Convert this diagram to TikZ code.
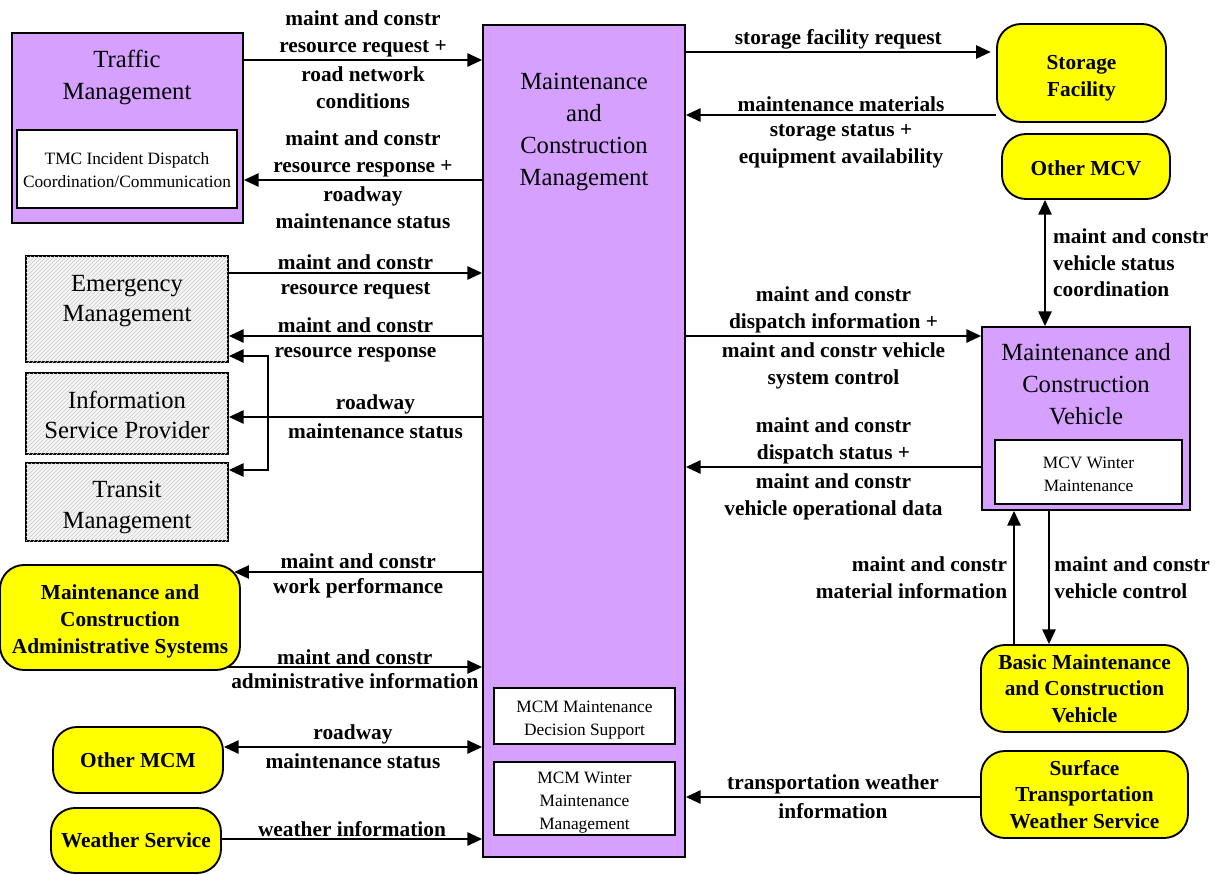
\documentclass[tikz,border=0pt]{standalone}
\usepackage{fontspec}
\setmainfont{Liberation Serif}
\usetikzlibrary{arrows.meta, fit, patterns}
\definecolor{mcpurple}{RGB}{214,160,255}
\definecolor{termyellow}{RGB}{255,255,0}
\tikzset{
    >={Triangle[length=11pt,width=10pt]},
    flow/.style={->, line width=1.2pt},
    flowboth/.style={<->, line width=1.2pt},
    lbl/.style={font=\fontsize{16}{20}\selectfont\bfseries, align=center, inner sep=1.5pt},
    upper/.style={lbl, above},
    lower/.style={lbl, below},
    subsys/.style={draw, line width=1.4pt, fill=mcpurple, inner sep=0pt},
    subtitle/.style={font=\fontsize{18.5}{24}\selectfont, align=center, inner sep=0pt},
    pspec/.style={draw, line width=1.2pt, fill=white, inner sep=0pt},
    spectext/.style={font=\fontsize{13}{17}\selectfont, align=center, inner sep=0pt},
    terminator/.style={draw, line width=1.4pt, fill=termyellow, rounded corners=18pt, inner sep=0pt},
    termtext/.style={font=\fontsize{16}{20}\selectfont\bfseries, align=center, inner sep=0pt},
    otherstub/.style={draw, line width=1.4pt, fill=gray!8, inner sep=0pt,
        postaction={pattern=north east lines, pattern color=gray!40}},
    stubtext/.style={font=\fontsize{18.5}{23}\selectfont, align=center, inner sep=0pt}
}

\begin{document}
\begin{tikzpicture}[x=0.75pt, y=-0.75pt]
    \useasboundingbox (0,0) rectangle (1215,875);

    % subsystems
    \node[subsys, fit={(12,33) (243,223)}] (tm) {};
    \node[subtitle] (tmtitle) at (127,77) {Traffic\\Management};
    \node[pspec, fit={(17,130) (237,208)}] (tmc) {};
    \node[spectext] (tmctext) at ([yshift=-1pt]tmc.center) {TMC Incident Dispatch\\Coordination/Communication};

    \node[subsys, fit={(483,25) (685,857)}] (mcm) {};
    \node[subtitle] (mcmtitle) at (584,132) {Maintenance\\and\\Construction\\Management};
    \node[pspec, fit={(494,688) (675,744)}] (mcmds) {};
    \node[spectext] (mcmdstext) at ([yshift=-3pt]mcmds.center) {MCM Maintenance\\Decision Support};
    \node[pspec, fit={(494,762) (675,835)}] (mcmwm) {};
    \node[spectext] (mcmwmtext) at ([yshift=-3pt]mcmwm.center) {MCM Winter\\Maintenance\\Management};

    \node[subsys, fit={(982,327) (1190,510)}] (mcv) {};
    \node[subtitle] (mcvtitle) at (1086,384) {Maintenance and\\Construction\\Vehicle};
    \node[pspec, fit={(995,440) (1182,504)}] (mcvwm) {};
    \node[spectext] (mcvwmtext) at ([yshift=-2pt]mcvwm.center) {MCV Winter\\Maintenance};

    % other subsystems (hatched)
    \node[otherstub, fit={(26,256) (228,362)}] (em) {};
    \node[stubtext] (emtext) at (127,301) {Emergency\\Management};
    \node[otherstub, fit={(26,373) (228,454)}] (isp) {};
    \node[stubtext] (isptext) at ([yshift=-1pt]isp.center) {Information\\Service Provider};
    \node[otherstub, fit={(26,463) (228,541)}] (tr) {};
    \node[stubtext] (trtext) at ([yshift=-4pt]tr.center) {Transit\\Management};

    % terminators
    \node[terminator, fit={(0,565) (240,670)}] (mcas) {};
    \node[termtext] (mcastext) at ([yshift=-3pt]mcas.center) {Maintenance and\\Construction\\Administrative Systems};
    \node[terminator, fit={(53,727) (223,793)}] (omcm) {};
    \node[termtext] (omcmtext) at (omcm.center) {Other MCM};
    \node[terminator, fit={(51,808) (221,873)}] (ws) {};
    \node[termtext] (wstext) at (ws.center) {Weather Service};
    \node[terminator, fit={(997,24) (1166,122)}] (sf) {};
    \node[termtext] (sftext) at ([yshift=-4pt]sf.center) {Storage\\Facility};
    \node[terminator, fit={(1002,134) (1170,199)}] (omcv) {};
    \node[termtext] (omcvtext) at ([yshift=-1.5pt]omcv.center) {Other MCV};
    \node[terminator, fit={(981,645) (1188,732)}] (bmcv) {};
    \node[termtext] (bmcvtext) at (bmcv.center) {Basic Maintenance\\and Construction\\Vehicle};
    \node[terminator, fit={(981,751) (1188,838)}] (stws) {};
    \node[termtext] (stwstext) at (stws.center) {Surface\\Transportation\\Weather Service};

    % left flows
    \draw[flow] (tm.east |- 0,60) -- (mcm.west |- 0,60)
        node[midway, upper] {maint and constr\\resource request +}
        node[midway, lower] {\strut road network\\conditions};
    \draw[flow] (mcm.west |- 0,180) -- (tm.east |- 0,180)
        node[midway, upper] {maint and constr\\resource response +}
        node[midway, lower] {\strut roadway\\maintenance status};
    \draw[flow] (em.east |- 0,273) -- (mcm.west |- 0,273)
        node[midway, upper] {maint and constr}
        node[midway, lower] {\strut resource request};
    \draw[flow] (mcm.west |- 0,336) -- (em.east |- 0,336)
        node[midway, upper] {maint and constr}
        node[midway, lower] {\strut resource response};
    \draw[flow] (mcm.west |- 0,417) -- (isp.east |- 0,417)
        node[midway, upper, xshift=15pt] {roadway}
        node[midway, lower, xshift=15pt] {\strut maintenance status};
    \coordinate (split) at (268,417);
    \draw[flow] (split) |- (em.east |- 0,356);
    \draw[flow] (split) |- (tr.east |- 0,470);
    \draw[flow] (mcm.west |- 0,572) -- ([xshift=-5pt]mcas.east |- 0,572)
        node[midway, upper] {maint and constr}
        node[midway, lower] {\strut work performance};
    \draw[flow] ([xshift=-10pt]mcas.east |- 0,667) -- (mcm.west |- 0,667)
        node[midway, upper] {maint and constr}
        node[midway, lower] {\strut administrative information};
    \draw[flowboth] (omcm.east |- 0,747) -- (mcm.west |- 0,747)
        node[midway, upper] {roadway}
        node[midway, lower] {\strut maintenance status};
    \draw[flow] (ws.east |- 0,839) -- (mcm.west |- 0,839)
        node[midway, upper] {weather information};

    % right flows
    \draw[flow] (mcm.east |- 0,52) -- ([xshift=-4pt]sf.west |- 0,52)
        node[midway, upper] {storage facility request};
    \draw[flow] (sf.west |- 0,115) -- (mcm.east |- 0,115)
        node[midway, upper] {maintenance materials}
        node[midway, lower] {\strut storage status +\\equipment availability};
    \draw[flowboth] (omcv.south -| 1045,0) -- (mcv.north -| 1045,0)
        node[midway, right, lbl, align=left, xshift=4pt] {maint and constr\\vehicle status\\coordination};
    \draw[flow] (mcm.east |- 0,336) -- (mcv.west |- 0,336)
        node[midway, upper] {maint and constr\\dispatch information +}
        node[midway, lower] {\strut maint and constr vehicle\\system control};
    \draw[flow] (mcv.west |- 0,467) -- (mcm.east |- 0,467)
        node[midway, upper] {maint and constr\\dispatch status +}
        node[midway, lower] {\strut maint and constr\\vehicle operational data};
    \draw[flow] (bmcv.north -| 1014,0) -- (mcv.south -| 1014,0)
        node[midway, left, lbl, align=right, xshift=-3pt] {maint and constr\\material information};
    \draw[flow] (mcv.south -| 1049,0) -- (bmcv.north -| 1049,0)
        node[midway, right, lbl, align=left, xshift=2pt] {maint and constr\\vehicle control};
    \draw[flow] (stws.west |- 0,797) -- (mcm.east |- 0,797)
        node[midway, upper] {transportation weather}
        node[midway, lower] {\strut information};

\end{tikzpicture}
\end{document}
